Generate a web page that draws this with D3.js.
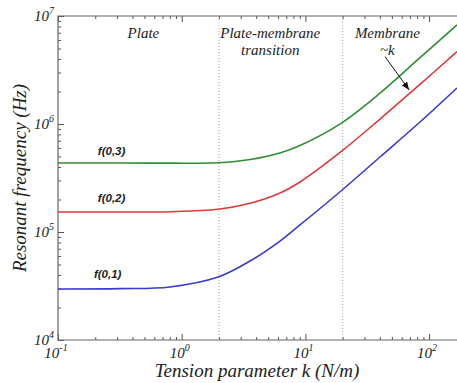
<!DOCTYPE html>
<html>
<head>
<meta charset="utf-8">
<script src="https://cdn.jsdelivr.net/npm/d3@7"></script>
<style>
  body { margin: 0; background: #fff; }
  svg { display: block; }
  .tl { font-family: "Liberation Serif", "Times New Roman", serif; font-style: italic; fill: #222; }
  .axis path { stroke: none; }
  .axis line { stroke: #555; stroke-width: 1; }
</style>
</head>
<body>
<div class="graph"></div>
<script>
// tension parameter k (N/m)
var kVals = [0.1, 0.317, 0.804, 1.966, 3.566, 6.234, 9.04, 19.4, 40.1, 84.4, 168];
// resonant frequency (Hz) per mode
var f01 = [2.967e4, 2.99e4, 3.1e4, 3.83e4, 5.39e4, 8.25e4, 1.162e5, 2.397e5, 4.95e5, 1.043e6, 2.155e6];
var f02 = [1.532e5, 1.532e5, 1.542e5, 1.623e5, 1.844e5, 2.297e5, 2.904e5, 5.54e5, 1.112e6, 2.33e6, 4.67e6];
var f03 = [4.35e5, 4.35e5, 4.34e5, 4.38e5, 4.69e5, 5.39e5, 6.32e5, 1.015e6, 1.93e6, 4.11e6, 8.26e6];
var seriesNames = ["f(0,1)", "f(0,2)", "f(0,3)"];
var seriesColors = ["#3a3ad0", "#e03a3a", "#2f8f2f"];
var xTickExp = [-1, 0, 1, 2];
var yTickExp = [4, 5, 6, 7];
var regionLines = [2, 20];

var width = 457, height = 383;
var mLeft = 58, mTop = 16, mBottom = 340;

var x = d3.scaleLog().domain([0.1, 200]).range([mLeft, mLeft + 3.301 * 123.7]);
var y = d3.scaleLog().domain([1e4, 1e7]).range([mBottom, mTop]);

var svg = d3.select(".graph").append("svg")
    .attr("width", width)
    .attr("height", height);

// minor + major ticks, all inward
function decadeTicks(lo, hi) {
  var t = [];
  for (var e = lo; e < hi; e++) {
    for (var m = 1; m < 10; m++) t.push(m * Math.pow(10, e));
  }
  t.push(Math.pow(10, hi));
  return t;
}
var xt = decadeTicks(-1, 2).concat([200]);
var yt = decadeTicks(4, 7);

function isMajor(v) { return Math.abs(Math.log10(v) - Math.round(Math.log10(v))) < 1e-6; }

[["b", mBottom], ["t", mTop]].forEach(function(p) {
  var ax = (p[0] == "b" ? d3.axisBottom(x) : d3.axisTop(x))
      .tickValues(xt).tickFormat("").tickSizeOuter(0).tickSize(0);
  var g = svg.append("g").attr("class", "axis")
      .attr("transform", "translate(0," + p[1] + ")")
      .call(ax);
  g.selectAll(".tick line")
      .attr("y2", function(d) { var s = isMajor(d) ? 6 : 3; return p[0] == "b" ? -s : s; });
});

var yax = svg.append("g").attr("class", "axis")
    .attr("transform", "translate(" + mLeft + ",0)")
    .call(d3.axisLeft(y).tickValues(yt).tickFormat("").tickSizeOuter(0).tickSize(0));
yax.selectAll(".tick line").attr("x2", function(d) { return isMajor(d) ? 6 : 3; });

// region separators
svg.selectAll(".sep")
  .data(regionLines)
  .enter().append("line")
    .attr("x1", function(d) { return x(d); })
    .attr("x2", function(d) { return x(d); })
    .attr("y1", mTop)
    .attr("y2", mBottom)
    .attr("stroke", "#aaa")
    .attr("stroke-width", 1)
    .attr("stroke-dasharray", "1,2");

// frame
svg.append("path")
    .attr("d", "M" + (width + 10) + "," + mTop + "H" + mLeft + "V" + mBottom + "H" + (width + 10))
    .attr("fill", "none")
    .attr("stroke", "#666")
    .attr("stroke-width", 1.2);

// curves
var line = d3.line()
    .x(function(d) { return x(d[0]); })
    .y(function(d) { return y(d[1]); })
    .curve(d3.curveCatmullRom.alpha(0.5));

[f01, f02, f03].forEach(function(s, i) {
  svg.append("path")
      .datum(kVals.map(function(k, j) { return [k, s[j]]; }))
      .attr("fill", "none")
      .attr("stroke", seriesColors[i])
      .attr("stroke-width", 1.6)
      .attr("d", line);
});

// mode labels
var modeLabelPos = [[0.195, 3.75e4], [0.21, 1.9e5], [0.21, 5.16e5]];
modeLabelPos.forEach(function(p, i) {
  svg.append("text")
      .attr("x", x(p[0]))
      .attr("y", y(p[1]))
      .style("font-family", "'Liberation Sans', Arial, sans-serif")
      .style("font-style", "italic")
      .style("font-weight", "bold")
      .style("font-size", "11.5px")
      .style("fill", "#222")
      .text(seriesNames[i]);
});

// tick labels with superscripts
xTickExp.forEach(function(e) {
  var t = svg.append("text").attr("class", "tl")
      .attr("x", x(Math.pow(10, e)) - 2)
      .attr("y", 358)
      .attr("text-anchor", "middle")
      .style("font-size", "15px");
  t.append("tspan").text("10");
  t.append("tspan").attr("dy", -7).style("font-size", "10px").text(e);
});
yTickExp.forEach(function(e) {
  var t = svg.append("text").attr("class", "tl")
      .attr("x", 34)
      .attr("y", y(Math.pow(10, e)) + 5)
      .style("font-size", "15px");
  t.append("tspan").text("10");
  t.append("tspan").attr("dy", -7).style("font-size", "10px").text(e);
});

// region annotations
function region(k, f, lines) {
  lines.forEach(function(s, i) {
    svg.append("text").attr("class", "tl")
        .attr("x", x(k))
        .attr("y", y(f) + i * 17)
        .attr("text-anchor", "middle")
        .style("font-size", "15px")
        .text(s);
  });
}
region(0.49, 6.2e6, ["Plate"]);
region(5.2, 6.2e6, ["Plate-membrane", "transition"]);
region(46, 6.2e6, ["Membrane", "~k"]);

svg.append("defs").append("marker")
    .attr("id", "arr")
    .attr("viewBox", "0 0 10 10")
    .attr("refX", 10).attr("refY", 5)
    .attr("markerWidth", 8).attr("markerHeight", 8)
    .attr("orient", "auto")
  .append("path")
    .attr("d", "M0,1L10,5L0,9z")
    .attr("fill", "#111");

svg.append("line")
    .attr("x1", x(44)).attr("y1", y(4.2e6))
    .attr("x2", x(69)).attr("y2", y(2.07e6))
    .attr("stroke", "#111")
    .attr("stroke-width", 1)
    .attr("marker-end", "url(#arr)");

// axis titles
svg.append("text").attr("class", "tl")
    .attr("x", 257)
    .attr("y", 377)
    .attr("text-anchor", "middle")
    .style("font-size", "19px")
    .text("Tension parameter k (N/m)");

svg.append("text").attr("class", "tl")
    .attr("transform", "translate(26,178) rotate(-90)")
    .attr("text-anchor", "middle")
    .style("font-size", "19px")
    .text("Resonant frequency (Hz)");
</script>
</body>
</html>
